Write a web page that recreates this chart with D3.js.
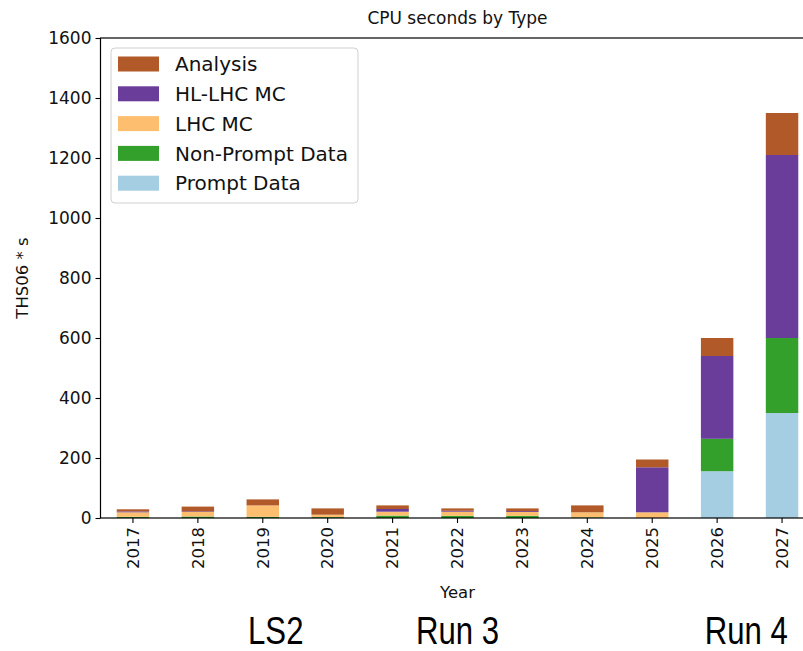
<!DOCTYPE html>
<html>
<head>
<meta charset="utf-8">
<script src="https://cdn.jsdelivr.net/npm/d3@7"></script>
<style>
  html, body { margin: 0; padding: 0; background: #fff; }
  svg { display: block; }
</style>
</head>
<body>
<svg id="chart" width="803" height="651"></svg>
<script>
// ---- data ----
const years = ["2017","2018","2019","2020","2021","2022","2023","2024","2025","2026","2027"];
const promptData    = [0, 0, 0, 0, 0, 0, 0, 0, 0, 156, 350];
const nonPromptData = [4, 5, 4, 3, 8, 7, 7, 2, 0, 108, 250];
const lhcMC         = [15, 15, 38, 8, 13, 14, 13, 17, 19, 0, 0];
const hlLhcMC       = [3, 2, 0, 0, 9, 3, 3, 0, 150, 276, 610];
const analysis      = [7, 16, 20, 21, 12, 8, 9, 23, 26, 60, 140];
const seriesNames   = ["Prompt Data", "Non-Prompt Data", "LHC MC", "HL-LHC MC", "Analysis"];
const seriesColors  = ["#a6cee3", "#33a02c", "#fdbf6f", "#6a3d9a", "#b15928"];
const yTicks        = [0, 200, 400, 600, 800, 1000, 1200, 1400, 1600];
const periodLabels  = ["LS2", "Run 3", "Run 4"];
const periodYears   = [2019.2, 2022, 2026.45]; // anchor positions on the year axis

// ---- build table ----
const seriesValues = [promptData, nonPromptData, lhcMC, hlLhcMC, analysis];
const table = years.map((yr, i) => {
  const row = { year: yr };
  seriesNames.forEach((s, k) => row[s] = seriesValues[k][i]);
  return row;
});
const stacked = d3.stack().keys(seriesNames)(table);

(function () {
const svg = d3.select("#chart");
const pLeft = 100.5, pRight = 814.5, pTop = 38, pBottom = 518;
const font = "'DejaVu Sans', sans-serif";

const x = d3.scaleBand().domain(years).range([pLeft, pRight]).paddingInner(0.5).paddingOuter(0.25);
const y = d3.scaleLinear().domain([0, 1600]).range([pBottom, pTop]);

// bars
svg.append("g").selectAll("g").data(stacked).join("g")
  .attr("fill", (d, i) => seriesColors[i])
  .selectAll("rect").data(d => d).join("rect")
  .attr("x", d => x(d.data.year))
  .attr("width", x.bandwidth())
  .attr("y", d => y(d[1]))
  .attr("height", d => y(d[0]) - y(d[1]));

// frame
svg.append("rect").attr("x", pLeft).attr("y", pTop)
  .attr("width", pRight - pLeft).attr("height", pBottom - pTop)
  .attr("fill", "none").attr("stroke", "#000").attr("stroke-width", 1.2);

// y axis
const yAxis = svg.append("g").attr("transform", `translate(${pLeft},0)`)
  .call(d3.axisLeft(y).tickValues(yTicks).tickSize(5).tickPadding(4).tickFormat(d3.format("d")));
yAxis.select(".domain").remove();
yAxis.selectAll("line").attr("stroke", "#000").attr("stroke-width", 1.1);
yAxis.selectAll("text").attr("font-family", font).attr("font-size", 17).attr("fill", "#111");

// x axis
const xAxis = svg.append("g").attr("transform", `translate(0,${pBottom})`)
  .call(d3.axisBottom(x).tickSize(5).tickPadding(4));
xAxis.select(".domain").remove();
xAxis.selectAll("line").attr("stroke", "#000").attr("stroke-width", 1.1);
xAxis.selectAll("text")
  .attr("font-family", font).attr("font-size", 16.5).attr("fill", "#111")
  .attr("transform", "rotate(-90)")
  .attr("text-anchor", "end")
  .attr("x", -9).attr("y", 0).attr("dy", "0.35em");

// title
svg.append("text").attr("x", (pLeft + pRight) / 2).attr("y", 24)
  .attr("text-anchor", "middle").attr("font-family", font).attr("font-size", 17)
  .attr("fill", "#111").text("CPU seconds by Type");

// axis labels
svg.append("text").attr("x", (pLeft + pRight) / 2).attr("y", 598)
  .attr("text-anchor", "middle").attr("font-family", font).attr("font-size", 16.5)
  .attr("fill", "#111").text("Year");
svg.append("text").attr("transform", `translate(28,${(pTop + pBottom) / 2}) rotate(-90)`)
  .attr("text-anchor", "middle").attr("font-family", font).attr("font-size", 16.5)
  .attr("fill", "#111").text("THS06 * s");

// legend
const lg = svg.append("g");
lg.append("rect").attr("x", 111).attr("y", 48).attr("width", 247).attr("height", 155)
  .attr("rx", 4).attr("fill", "#fff").attr("fill-opacity", 0.8)
  .attr("stroke", "#d0d0d0").attr("stroke-width", 1);
const legendOrder = [4, 3, 2, 1, 0];
legendOrder.forEach((k, i) => {
  const cy = 64 + i * 29.8;
  lg.append("rect").attr("x", 118).attr("y", cy - 7.5).attr("width", 41).attr("height", 15)
    .attr("fill", seriesColors[k]);
  lg.append("text").attr("x", 175).attr("y", cy).attr("dy", "0.36em")
    .attr("font-family", font).attr("font-size", 20).attr("fill", "#111")
    .text(seriesNames[k]);
});

// period labels
const step = x.step();
periodLabels.forEach((t, i) => {
  const cx = x(years[0]) + x.bandwidth() / 2 + (periodYears[i] - 2017) * step;
  svg.append("text")
    .attr("transform", `translate(${cx},644) scale(0.82,1)`)
    .attr("text-anchor", "middle")
    .attr("font-family", "'Liberation Sans', Arial, sans-serif")
    .attr("font-size", 38).attr("fill", "#000")
    .text(t);
});
})();
</script>
</body>
</html>
